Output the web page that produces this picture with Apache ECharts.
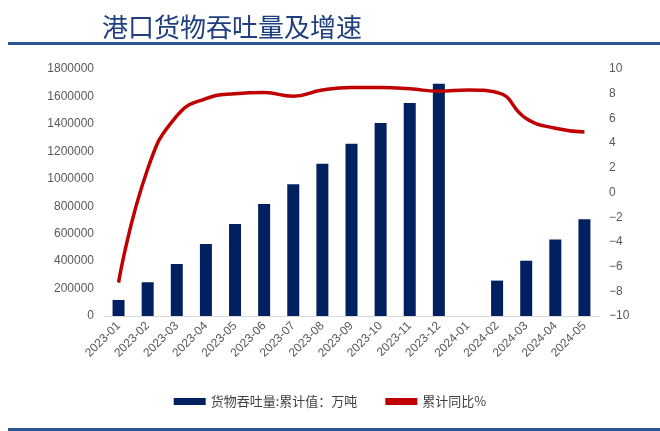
<!DOCTYPE html>
<html>
<head>
<meta charset="utf-8">
<script src="https://cdn.jsdelivr.net/npm/echarts@6/dist/echarts.min.js"></script>
<style>
  html, body { margin: 0; padding: 0; background: #fff; }
  #chart { width: 660px; height: 431px; }
</style>
</head>
<body>
<div id="chart"></div>
<script>
// 月份
var months = ['2023-01', '2023-02', '2023-03', '2023-04', '2023-05', '2023-06', '2023-07', '2023-08',
    '2023-09', '2023-10', '2023-11', '2023-12', '2024-01', '2024-02', '2024-03', '2024-04', '2024-05'];
// 货物吞吐量:累计值（万吨），2024-01 无数据
var throughput = [117000, 246000, 379000, 525000, 671000, 817000, 961000, 1109000,
    1255000, 1406000, 1552000, 1693000, null, 258000, 403000, 557000, 705000];
// 累计同比%
var yoy = [-7.3, 1.9, 6.2, 7.6, 8.0, 8.1, 7.8, 8.3, 8.5, 8.5, 8.4, 8.2, 8.3, 8.1, 6.0, 5.2, 4.9];

var leftTicks = { min: 0, max: 1800000, interval: 200000 };
var rightTicks = { min: -10, max: 10, interval: 2 };

var myChart = echarts.init(document.getElementById('chart'));
var labelColor = '#595959';
var option = {
    backgroundColor: '#fff',
    animation: false,
    title: {
        text: '港口货物吞吐量及增速',
        left: 97,
        top: 9,
        textStyle: {
            color: '#1F3F7E',
            fontSize: 26,
            fontWeight: 'normal',
            fontFamily: 'Noto Sans CJK SC'
        }
    },
    graphic: [
        { type: 'rect', shape: { x: 8, y: 42, width: 652, height: 3 }, style: { fill: '#2B5595' } },
        { type: 'rect', shape: { x: 8, y: 428, width: 652, height: 3 }, style: { fill: '#2B5595' } }
    ],
    legend: {
        top: 390,
        left: 'center',
        itemGap: 28,
        itemWidth: 32,
        itemHeight: 7,
        textStyle: { color: '#404040', fontSize: 13, fontFamily: 'Noto Sans CJK SC' },
        data: [
            { name: '货物吞吐量:累计值：万吨', icon: 'rect' },
            { name: '累计同比%', icon: 'rect', itemStyle: { color: '#C00000' } }
        ]
    },
    grid: { left: 104, right: 61, top: 69, bottom: 115 },
    xAxis: {
        type: 'category',
        data: months,
        axisLine: { lineStyle: { color: '#D9D9D9' } },
        axisTick: { show: false },
        axisLabel: {
            rotate: 45,
            interval: 0,
            color: labelColor,
            fontSize: 12,
            fontFamily: 'Liberation Sans',
            margin: 8
        }
    },
    yAxis: [
        {
            type: 'value',
            min: leftTicks.min,
            max: leftTicks.max,
            interval: leftTicks.interval,
            splitLine: { show: false },
            axisLabel: {
                color: labelColor, fontSize: 12, fontFamily: 'Liberation Sans', margin: 10,
                formatter: function (v) { return String(v); }
            }
        },
        {
            type: 'value',
            min: rightTicks.min,
            max: rightTicks.max,
            interval: rightTicks.interval,
            splitLine: { show: false },
            axisLabel: {
                color: labelColor, fontSize: 12, fontFamily: 'Liberation Sans', margin: 10,
                formatter: function (v) { return String(v).replace('-', '\u2212'); }
            }
        }
    ],
    series: [
        {
            name: '货物吞吐量:累计值：万吨',
            type: 'bar',
            data: throughput,
            barWidth: 12,
            itemStyle: { color: '#002060' }
        },
        {
            name: '累计同比%',
            type: 'line',
            yAxisIndex: 1,
            data: yoy,
            smooth: 0.5,
            symbol: 'none',
            lineStyle: { color: '#C00000', width: 3.5 },
            itemStyle: { color: '#C00000' }
        }
    ]
};
myChart.setOption(option);
</script>
</body>
</html>
